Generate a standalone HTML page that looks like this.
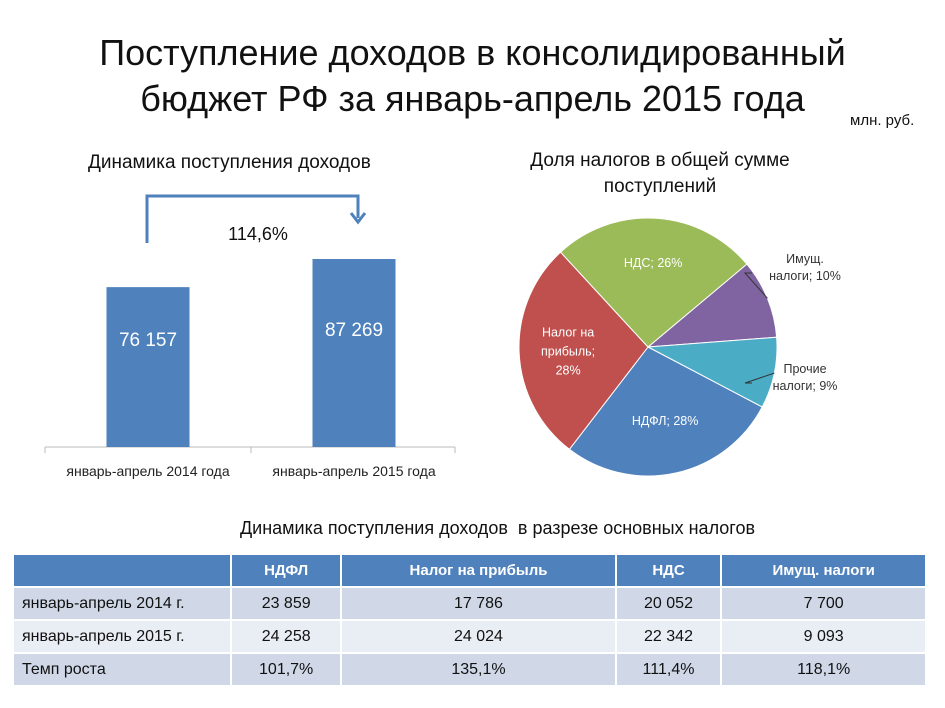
<!DOCTYPE html>
<html><head><meta charset="utf-8">
<style>
body{margin:0;width:945px;height:708px;background:#fff;font-family:"Liberation Sans","Noto Sans CJK SC",sans-serif;position:relative;overflow:hidden;color:#111}
.t{position:absolute;white-space:nowrap}
table{position:absolute;left:12px;top:553px;width:915px;border-collapse:collapse;font-size:16px}
td{border:2px solid #fff;height:31px;text-align:center;padding:0}
td:first-child{text-align:left;padding-left:8px}
tr.h td{background:#4f81bd;color:#fff;font-weight:bold;font-size:15px}
tr.a td{background:#d0d8e8}
tr.b td{background:#e9edf4}
</style></head><body>
<div class="t" style="left:0;width:945px;text-align:center;top:30px;font-size:36px;line-height:46px">Поступление доходов в консолидированный<br>бюджет РФ за январь-апрель 2015 года</div>
<div class="t" style="left:850px;top:112px;font-size:15px">млн. руб.</div>
<div class="t" style="left:88px;top:152px;font-size:19px">Динамика поступления доходов</div>
<div class="t" style="left:480px;width:360px;text-align:center;top:148px;font-size:19px;line-height:26px">Доля налогов в общей сумме<br>поступлений</div>
<svg id="bars" width="470" height="340" style="position:absolute;left:0;top:180px"></svg>
<svg id="pie" width="440" height="300" style="position:absolute;left:500px;top:200px"></svg>
<div class="t" style="left:0;width:995px;text-align:center;top:518px;font-size:18px">Динамика поступления доходов&nbsp; в разрезе основных налогов</div>
<table>
<tr class="h"><td style="width:208px"></td><td>НДФЛ</td><td>Налог на прибыль</td><td>НДС</td><td>Имущ. налоги</td></tr>
<tr class="a"><td>январь-апрель 2014 г.</td><td>23 859</td><td>17 786</td><td>20 052</td><td>7 700</td></tr>
<tr class="b"><td>январь-апрель 2015 г.</td><td>24 258</td><td>24 024</td><td>22 342</td><td>9 093</td></tr>
<tr class="a"><td>Темп роста</td><td>101,7%</td><td>135,1%</td><td>111,4%</td><td>118,1%</td></tr>
</table>
<script>
const barCategories=["январь-апрель  2014 года","январь-апрель  2015 года"];
const barValues=[76157,87269];
const barLabels=["76 157","87 269"];
const growthLabel="114,6%";
const pieCategories=["Имущ. налоги","Прочие налоги","НДФЛ","Налог на прибыль","НДС"];
const pieValues=[10,9,28,28,26];
const pieColors=["#8064a2","#4bacc6","#4f81bd","#c0504d","#9bbb59"];
const NS="http://www.w3.org/2000/svg";
function mk(p,t,a){const e=document.createElementNS(NS,t);for(const k in a)e.setAttribute(k,a[k]);p.appendChild(e);return e;}
// bar chart (svg offset top 180)
const bs=document.getElementById('bars');
const base=267,yMin=13000,yMax=87269,hMax=188;
const y=v=>base-(v-yMin)/(yMax-yMin)*hMax;
const bandX=i=>45+i*206,bw=83;
let l=mk(bs,'line',{x1:45,y1:base,x2:455,y2:base,stroke:'#bbb'});


[45,251,455].forEach(x=>mk(bs,'line',{x1:x,y1:base,x2:x,y2:base+6,stroke:'#bbb'}));
const centers=[];
barValues.forEach((v,i)=>{
 const cx=bandX(i)+103;centers.push(cx);
 const r=mk(bs,'rect',{x:cx-bw/2,y:y(v),width:bw,height:base-y(v),fill:'#4f81bd'});
 
 
 const t=mk(bs,'text',{x:cx,y:i==0?166:156,'text-anchor':'middle','font-size':19,fill:'#fff'});
 t.textContent=barLabels[i];
 
 
 const c=mk(bs,'text',{x:cx,y:base+29,'text-anchor':'middle','font-size':14,fill:'#222'});
 c.textContent=barCategories[i];
 
 
});
const ar=mk(bs,'path',{d:`M${centers[0]-1} 63 V16 H${centers[1]+4} V38`,fill:'none',stroke:'#4f81bd','stroke-width':3});


mk(bs,'path',{d:`M${centers[1]-3} 33 L${centers[1]+4} 42 L${centers[1]+11} 33`,fill:'none',stroke:'#4f81bd','stroke-width':3});
const gl=mk(bs,'text',{x:258,y:60,'text-anchor':'middle','font-size':18,fill:'#111'});
gl.textContent=growthLabel;


// pie (svg offset 500,200)
const ps=document.getElementById('pie');
const cx=148,cy=147,R=129;
const tot=pieValues.reduce((a,b)=>a+b,0);
let ang=-40*Math.PI/180;
const pt=(a,r)=>[cx+r*Math.cos(a),cy+r*Math.sin(a)];
pieValues.forEach((v,i)=>{
 const a2=ang+v/tot*2*Math.PI;
 const [x1,y1]=pt(ang,R),[x2,y2]=pt(a2,R);
 const p=mk(ps,'path',{d:`M${cx} ${cy} L${x1} ${y1} A${R} ${R} 0 ${a2-ang>Math.PI?1:0} 1 ${x2} ${y2}Z`,fill:pieColors[i],stroke:'#fff','stroke-width':1});
 
 
 const m=(ang+a2)/2;
 const lines=[pieCategories[i].replace(' налоги','')+(i==3?'':'; '+v+'%')];
 let lab;
 if(i<2){
  const [ex,ey]=pt(m,R);const lx=i==0?245:245,ly=i==0?73:183;
  mk(ps,'path',{d:`M${ex} ${ey} L${lx} ${ly} H252`,fill:'none',stroke:'#333'});
  const t=mk(ps,'text',{x:305,y:ly-10,'text-anchor':'middle','font-size':12.5,fill:'#333'});
  
  
  const w=pieCategories[i].split(' ');
  mk(t,'tspan',{x:305,dy:0}).textContent=w[0];
  mk(t,'tspan',{x:305,dy:17}).textContent=w[1]+'; '+v+'%';
 } else {
  const [tx,ty]=pt(m,R*0.62);
  const t=mk(ps,'text',{x:tx,y:ty,'text-anchor':'middle','font-size':12.5,fill:'#fff'});
  
  
  if(i==3){const w=['Налог на','прибыль;',v+'%'];w.forEach((s,k)=>mk(t,'tspan',{x:tx,dy:k==0?-14:19}).textContent=s);}
  else t.textContent=pieCategories[i]+'; '+v+'%';
 }
 ang=a2;
});
</script>
</body></html>
